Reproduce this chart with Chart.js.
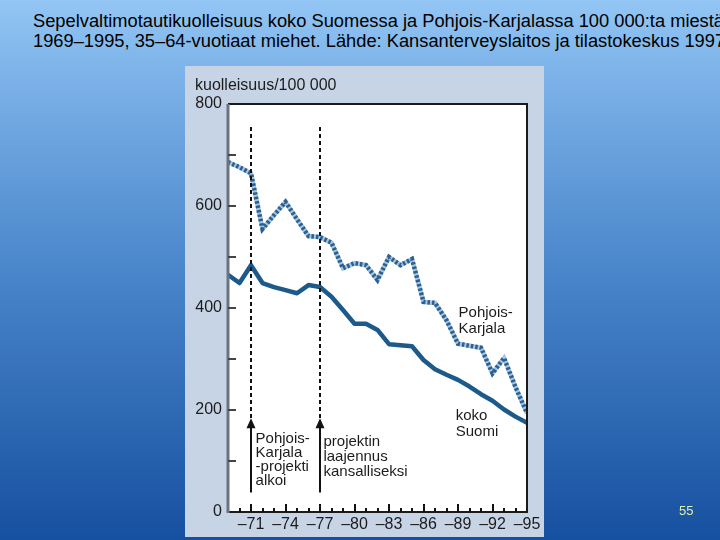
<!DOCTYPE html>
<html>
<head>
<meta charset="utf-8">
<script src="https://cdn.jsdelivr.net/npm/chart.js@4.4.0/dist/chart.umd.min.js"></script>
<style>
  html, body { margin: 0; padding: 0; width: 720px; height: 540px; overflow: hidden; }
  body {
    position: relative;
    font-family: "Liberation Sans", Arial, sans-serif;
    background: linear-gradient(to bottom, #93c6f5 0%, #80b6ea 11%, #4c88cc 48%, #1650a0 100%);
  }
  #title {
    position: absolute; left: 33px; top: 11px; white-space: nowrap;
    font-size: 18.3px; line-height: 20px; color: #000;
  }
  #panel {
    position: absolute; left: 185px; top: 66px; width: 359px; height: 471px;
    background: #c7d4e5;
  }
  #wrap { position: absolute; left: 0; top: 0; width: 720px; height: 540px; }
  #page {
    position: absolute; left: 679px; top: 503px; font-size: 13px; color: #dcefa6;
  }
</style>
</head>
<body>
<div id="title">Sepelvaltimotautikuolleisuus koko Suomessa ja Pohjois-Karjalassa 100 000:ta miestä<br>1969–1995, 35–64-vuotiaat miehet. Lähde: Kansanterveyslaitos ja tilastokeskus 1997</div>
<div id="panel"></div>
<div id="wrap"><canvas id="c" width="720" height="540"></canvas></div>
<div id="page">55</div>
<script>
// ---- data ----
const years = [1969,1970,1971,1972,1973,1974,1975,1976,1977,1978,1979,1980,1981,1982,1983,1984,1985,1986,1987,1988,1989,1990,1991,1992,1993,1994,1995];
const kokoSuomi = [465,449,484,449,441,435,429,445,441,422,396,369,369,357,329,327,325,298,280,269,259,246,231,218,201,187,175];
const pohjoisKarjala = [686,676,664,555,582,608,574,541,539,528,478,488,484,455,500,484,496,412,410,376,330,326,322,272,302,245,194];
const xTickYears = [1971,1974,1977,1980,1983,1986,1989,1992,1995];
const xTickLabels = ['–71','–74','–77','–80','–83','–86','–89','–92','–95'];
const yTickValues = [0,200,400,600,800];
const eventYears = [1971,1977];
const seriesNames = ['Pohjois-Karjala','koko Suomi'];

const FONT = '"Liberation Sans", Arial, sans-serif';
const toPts = arr => years.map((yr, i) => ({ x: yr, y: arr[i] }));

const deco = {
  id: 'deco',
  beforeDraw(chart) {
    const { ctx, chartArea: a } = chart;
    ctx.save();
    ctx.fillStyle = '#ffffff';
    ctx.fillRect(a.left, a.top, a.right - a.left, a.bottom - a.top);
    ctx.restore();
  },
  afterDatasetsDraw(chart, args, opts) {
    const { ctx, chartArea: a, scales: { x, y } } = chart;
    ctx.save();
    // event lines + arrows
    eventYears.forEach(yr => {
      const px = Math.round(x.getPixelForValue(yr));
      ctx.strokeStyle = '#111'; ctx.lineWidth = 2;
      ctx.setLineDash([4, 3]);
      ctx.beginPath();
      ctx.moveTo(px, y.getPixelForValue(opts.lineTop));
      ctx.lineTo(px, y.getPixelForValue(opts.arrowTip) + 2);
      ctx.stroke();
      ctx.setLineDash([]);
      const tip = y.getPixelForValue(opts.arrowTip);
      ctx.beginPath();
      ctx.moveTo(px, y.getPixelForValue(opts.arrowBase));
      ctx.lineTo(px, tip + 6);
      ctx.stroke();
      ctx.fillStyle = '#111';
      ctx.beginPath();
      ctx.moveTo(px, tip);
      ctx.lineTo(px - 4.5, tip + 10);
      ctx.lineTo(px + 4.5, tip + 10);
      ctx.closePath();
      ctx.fill();
    });
    // frame
    ctx.lineWidth = 2; ctx.strokeStyle = '#1a1a1a';
    ctx.beginPath();
    ctx.moveTo(a.left, a.top); ctx.lineTo(a.right, a.top); ctx.lineTo(a.right, a.bottom); ctx.lineTo(a.left, a.bottom);
    ctx.stroke();
    ctx.lineWidth = 3; ctx.strokeStyle = '#6b7380';
    ctx.beginPath(); ctx.moveTo(a.left, a.top); ctx.lineTo(a.left, a.bottom + 1); ctx.stroke();
    // inward y ticks
    ctx.lineWidth = 2; ctx.strokeStyle = '#444';
    y.ticks.forEach(t => {
      if (t.value <= 0 || t.value >= 800) return;
      const py = Math.round(y.getPixelForValue(t.value));
      ctx.beginPath(); ctx.moveTo(a.left, py); ctx.lineTo(a.left + 8, py); ctx.stroke();
    });
    // inward x ticks
    ctx.strokeStyle = '#111';
    x.ticks.forEach(t => {
      if (t.value <= 1969 || t.value >= 1995) return;
      const px = Math.round(x.getPixelForValue(t.value));
      const len = xTickYears.includes(t.value) ? 8 : 4;
      ctx.beginPath(); ctx.moveTo(px, a.bottom); ctx.lineTo(px, a.bottom - len); ctx.stroke();
    });
    // texts
    ctx.fillStyle = '#1c1c1c';
    ctx.font = '16px ' + FONT;
    ctx.textAlign = 'left'; ctx.textBaseline = 'alphabetic';
    ctx.fillText('kuolleisuus/100 000', a.left - 33, a.top - 14);
    ctx.font = '15px ' + FONT;
    opts.notes.forEach(n => {
      const px = x.getPixelForValue(n.x), py = y.getPixelForValue(n.y);
      n.lines.forEach((ln, i) => ctx.fillText(ln, px, py + i * n.step));
    });
    ctx.restore();
  }
};

new Chart(document.getElementById('c'), {
  type: 'line',
  data: {
    datasets: [
      { label: seriesNames[0], data: toPts(pohjoisKarjala), borderColor: '#2a6192', borderWidth: 4.5,
        borderDash: [2.5, 2], borderCapStyle: 'butt', pointRadius: 0, tension: 0, fill: false },
      { label: seriesNames[0] + ' ', data: toPts(pohjoisKarjala), borderColor: '#a8c5de', borderWidth: 4.5,
        pointRadius: 0, tension: 0, fill: false },
      { label: seriesNames[1], data: toPts(kokoSuomi), borderColor: '#1b5a8b', borderWidth: 4.5,
        borderJoinStyle: 'round', pointRadius: 0, tension: 0, fill: false }
    ]
  },
  options: {
    responsive: false,
    animation: false,
    devicePixelRatio: 1,
    layout: { padding: { top: 104, right: 193, bottom: 0, left: 0 } },
    plugins: {
      legend: { display: false },
      tooltip: { enabled: false },
      deco: {
        lineTop: 755, arrowTip: 184, arrowBase: 38,
        notes: [
          { x: 1971.4, y: 135, step: 14, lines: ['Pohjois-', 'Karjala', '-projekti', 'alkoi'] },
          { x: 1977.3, y: 129, step: 15, lines: ['projektin', 'laajennus', 'kansalliseksi'] },
          { x: 1989.05, y: 383, step: 16, lines: ['Pohjois-', 'Karjala'] },
          { x: 1988.8, y: 180, step: 16, lines: ['koko', 'Suomi'] }
        ]
      }
    },
    scales: {
      x: {
        type: 'linear', min: 1969, max: 1995,
        afterFit(s) { s.height = 28; },
        grid: { display: false, drawTicks: false },
        border: { display: false },
        ticks: {
          stepSize: 1, autoSkip: false, maxRotation: 0, padding: 3, color: '#1c1c1c',
          font: { size: 16, family: FONT },
          callback(v) { const i = xTickYears.indexOf(v); return i >= 0 ? xTickLabels[i] : ''; }
        }
      },
      y: {
        min: 0, max: 800,
        afterFit(s) { s.width = 228; },
        grid: { display: false, drawTicks: false },
        border: { display: false },
        ticks: {
          stepSize: 100, padding: 6, color: '#1c1c1c',
          font: { size: 16, family: FONT },
          callback(v) { return yTickValues.includes(v) ? String(v) : ''; }
        }
      }
    }
  },
  plugins: [deco]
});
</script>
</body>
</html>
